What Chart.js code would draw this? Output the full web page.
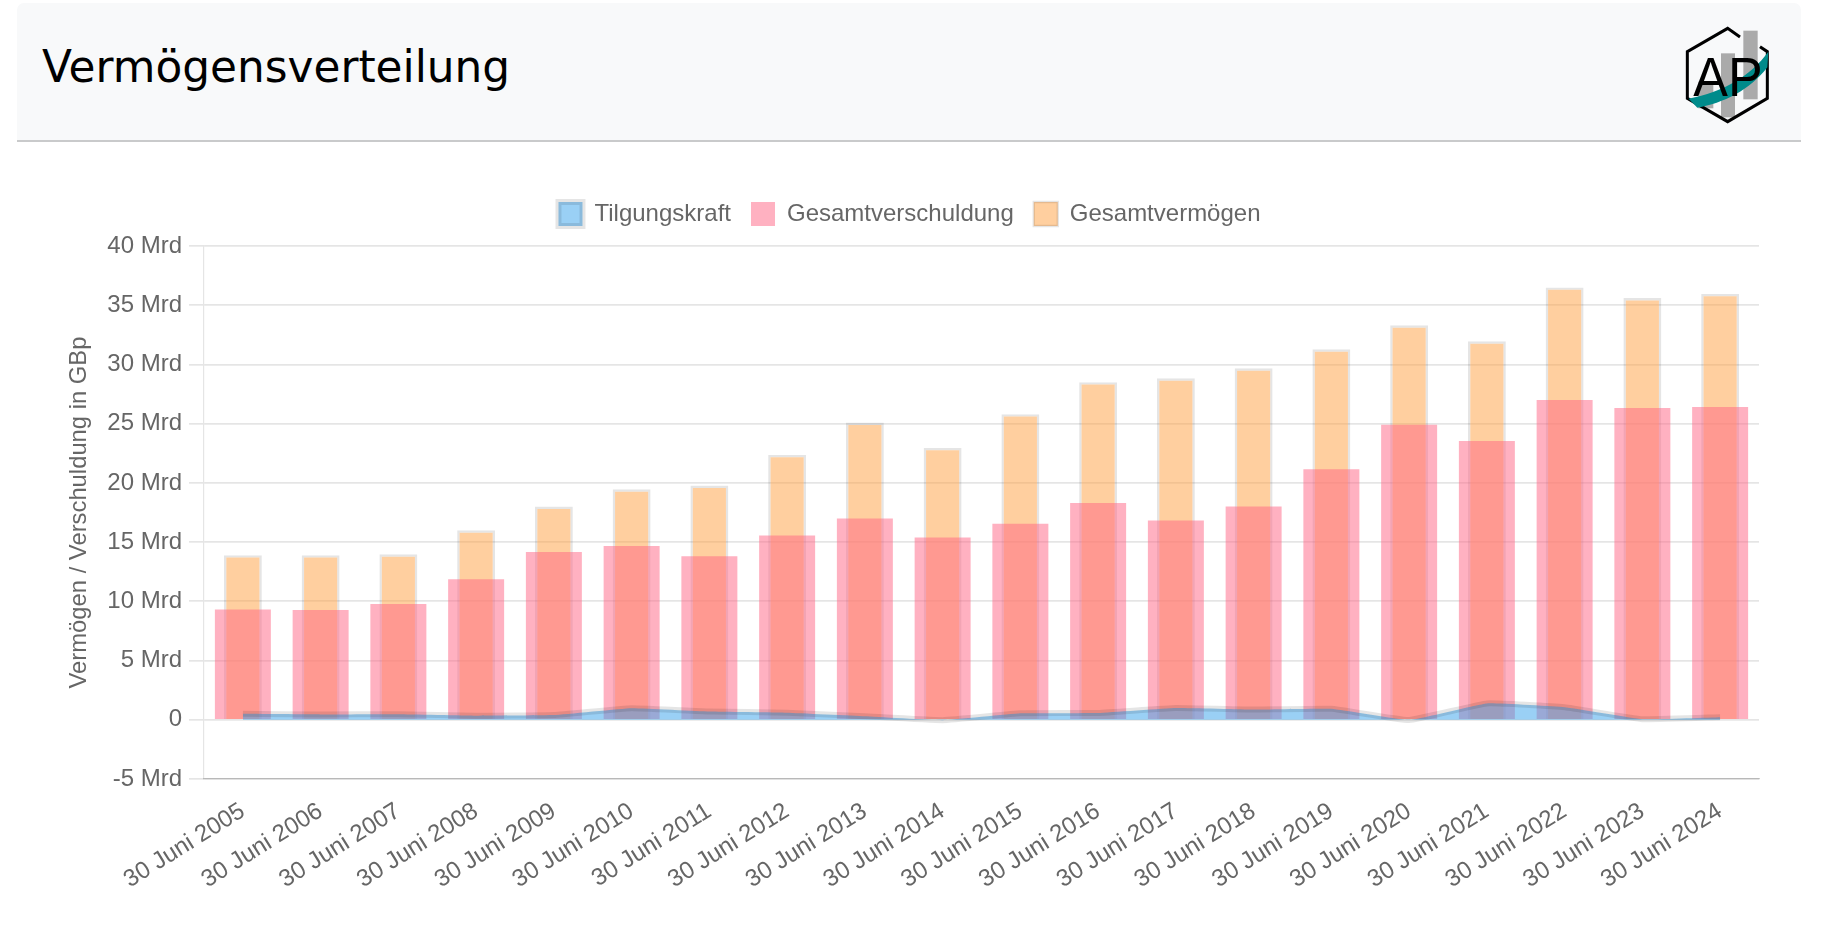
<!DOCTYPE html>
<html lang="de">
<head>
<meta charset="utf-8">
<title>Vermögensverteilung</title>
<script src="https://cdn.jsdelivr.net/npm/chart.js@4"></script>
<style>
html,body{margin:0;padding:0;background:#fff;width:1824px;height:928px;overflow:hidden}
#hdr{position:absolute;left:17px;top:3px;width:1784px;height:137px;background:#f8f9fa;border-bottom:2px solid #c9cacb;border-radius:7px 7px 0 0}
#ttl{position:absolute;left:42px;top:42px;font:43.8px/50px "DejaVu Sans",sans-serif;color:#000;white-space:nowrap}
#logo{position:absolute;left:1660px;top:10px}
#c{position:absolute;left:0;top:0}
</style>
</head>
<body>
<div id="hdr"></div>
<div id="ttl">Vermögensverteilung</div>
<svg id="logo" width="164" height="130" viewBox="0 0 492 390">
  <g fill="#aaa">
    <rect x="115" y="215" width="45" height="80"/>
    <rect x="183" y="130" width="42" height="192"/>
    <rect x="250" y="62" width="43" height="206"/>
  </g>
  <path d="M240 81 L203 55 L82 125 L82 265 L203 335 L322 265 L322 125 L300 110" fill="none" stroke="#000" stroke-width="9"/>
  <path d="M86 266 C190 245 270 200 325 125 L322 172 C270 240 190 280 112 293 Z" fill="#008b8b"/>
  <text x="100" y="258" font-family="Liberation Sans" font-size="168" fill="#000" textLength="208" lengthAdjust="spacingAndGlyphs">AP</text>
</svg>
<canvas id="c" width="1824" height="928"></canvas>
<script>
const categories = ["30 Juni 2005","30 Juni 2006","30 Juni 2007","30 Juni 2008","30 Juni 2009","30 Juni 2010","30 Juni 2011","30 Juni 2012","30 Juni 2013","30 Juni 2014","30 Juni 2015","30 Juni 2016","30 Juni 2017","30 Juni 2018","30 Juni 2019","30 Juni 2020","30 Juni 2021","30 Juni 2022","30 Juni 2023","30 Juni 2024"];
const tilgungskraft = [0.5,0.45,0.47,0.35,0.4,0.98,0.7,0.6,0.3,-0.03,0.55,0.58,1.0,0.87,0.93,-0.02,1.38,1.05,0.05,0.22];
const gesamtverschuldung = [9.3,9.27,9.77,11.86,14.17,14.68,13.8,15.55,16.99,15.38,16.56,18.3,16.82,18.0,21.15,24.9,23.54,27.0,26.33,26.41];
const gesamtvermoegen = [13.9,13.9,13.97,16.0,18.0,19.46,19.77,22.36,25.1,22.95,25.8,28.5,28.83,29.67,31.28,33.3,31.95,36.5,35.6,35.95];

Chart.defaults.font.family = '"Liberation Sans",Arial,sans-serif';
Chart.defaults.font.size = 24;
Chart.defaults.color = '#666';

const legendSpace = {
  id:'legendSpace',
  beforeLayout(chart){
    const l = chart.legend;
    if(l && !l._sized){
      const f = l.fit.bind(l);
      l.fit = function(){ f(); this.height += 10; };
      l._sized = true;
    }
  }
};

new Chart(document.getElementById('c'), {
  plugins:[legendSpace],
  data: {
    labels: categories,
    datasets: [
      {type:'line',label:'Tilgungskraft',data:tilgungskraft,backgroundColor:'rgba(54,162,235,0.5)',borderColor:'rgba(0,0,0,0.1)',borderWidth:6,pointRadius:0,fill:'origin',tension:0.1},
      {type:'bar',label:'Gesamtverschuldung',data:gesamtverschuldung,backgroundColor:'rgba(255,99,132,0.5)',borderWidth:0,grouped:false,barPercentage:0.9,categoryPercentage:0.8},
      {type:'bar',label:'Gesamtvermögen',data:gesamtvermoegen,backgroundColor:'rgba(255,159,64,0.5)',borderColor:'rgba(0,0,0,0.1)',borderWidth:2.4,grouped:false,barPercentage:0.61,categoryPercentage:0.8}
    ]
  },
  options: {
    responsive:false,
    animation:false,
    devicePixelRatio:1,
    layout:{padding:{left:60,right:65,top:182,bottom:0}},
    plugins:{
      tooltip:{enabled:false},
      legend:{position:'top',labels:{boxWidth:24,boxHeight:24,padding:20,font:{size:24}}}
    },
    scales:{
      x:{
        grid:{display:false},
        border:{color:'rgba(0,0,0,0.2)',width:1.2},
        ticks:{minRotation:32,maxRotation:32,autoSkip:false,font:{size:24},padding:10},
        afterFit(s){s.height=149;}
      },
      y:{
        min:-5,max:40,
        grid:{color:'rgba(0,0,0,0.1)',lineWidth:1.7,tickLength:15},
        border:{color:'rgba(0,0,0,0.1)',width:1.2},
        ticks:{stepSize:5,padding:7,font:{size:24},callback:v=>v===0?'0':v+' Mrd'},
        title:{display:true,text:'Vermögen / Verschuldung in GBp',font:{size:23.8},padding:{top:5,bottom:0}},
        afterFit(s){s.width=144;}
      }
    }
  }
});
</script>
</body>
</html>
